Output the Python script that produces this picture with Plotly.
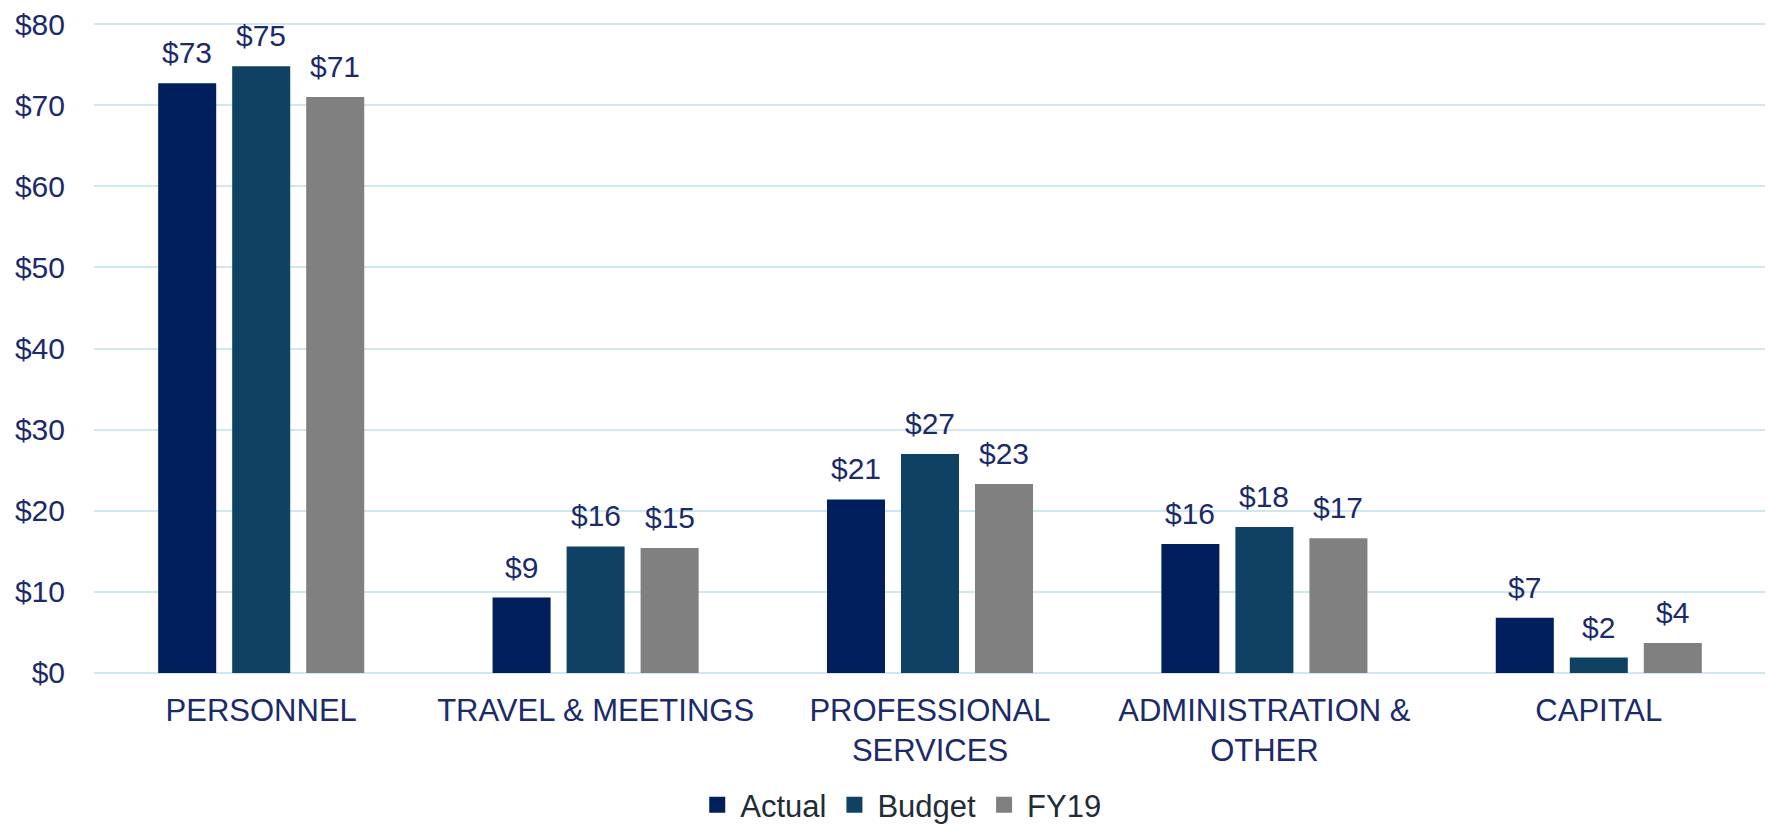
import plotly.graph_objects as go

categories = ["PERSONNEL", "TRAVEL & MEETINGS", "PROFESSIONAL<br>SERVICES",
              "ADMINISTRATION &<br>OTHER", "CAPITAL"]
actual = [72.7, 9.3, 21.4, 15.9, 6.8]
budget = [74.8, 15.6, 27.0, 18.0, 1.9]
fy19 = [71.0, 15.4, 23.3, 16.6, 3.7]
series_names = ["Actual", "Budget", "FY19"]
y_ticks = [0, 10, 20, 30, 40, 50, 60, 70, 80]

colors = ["#001F5C", "#0F4262", "#808080"]
label_color = "#1B2A6B"
legend_color = "#222B36"
grid_color = "#CFE8F0"

fig = go.Figure()
series = [actual, budget, fy19]
for name, vals, col in zip(series_names, series, colors):
    fig.add_trace(go.Bar(
        x=categories, y=vals, name=name, marker_color=col,
        marker_line_width=0, showlegend=False,
    ))
    # legend entry with larger square swatch
    fig.add_trace(go.Scatter(
        x=[None], y=[None], mode="markers", name=name,
        marker=dict(symbol="square", size=16, color=col), showlegend=True,
    ))

# data labels above bars
slot_px = 74
for i, vals in enumerate(series):
    for cat, v in zip(categories, vals):
        fig.add_annotation(
            x=cat, y=v, xref="x", yref="y", text=f"${int(v + 0.5):d}",
            showarrow=False, yanchor="bottom", xanchor="center",
            xshift=(i - 1) * slot_px, yshift=12,
            font=dict(family="Liberation Sans, Arial", size=30, color=label_color),
        )

# page body has an 8px margin, so the figure is sized to fit the window
fig.update_layout(
    width=1765, height=816,
    margin=dict(l=86, r=7, t=14, b=149, autoexpand=False),
    plot_bgcolor="white", paper_bgcolor="white",
    barmode="group", bargap=0.336, bargroupgap=0.216,
    font=dict(family="Liberation Sans, Arial", color=label_color),
    legend=dict(
        orientation="h", x=0.359, xanchor="left",
        yref="container", y=0.0233, yanchor="middle",
        font=dict(family="Liberation Sans, Arial", size=31, color=legend_color),
        itemsizing="trace", itemwidth=36, bgcolor="rgba(0,0,0,0)",
    ),
)
fig.update_yaxes(
    range=[-0.25, 80.25], tickvals=y_ticks, ticktext=[f"${t}" for t in y_ticks],
    showgrid=True, gridcolor=grid_color, gridwidth=2, zeroline=False,
    showline=False, ticks="", ticklabelstandoff=28, automargin=False,
    ticklabeloverflow="allow",
    tickfont=dict(family="Liberation Sans, Arial", size=30, color=label_color),
)
fig.update_xaxes(
    showline=False, showgrid=False, ticks="", ticklabelstandoff=14, automargin=False,
    ticklabeloverflow="allow",
    tickfont=dict(family="Liberation Sans, Arial", size=31, color=label_color),
)

fig.write_html("out.html")
